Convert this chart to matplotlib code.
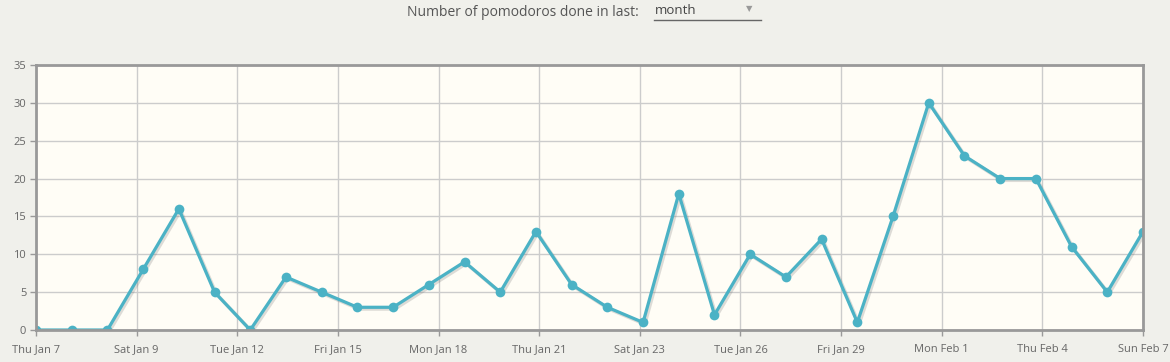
import matplotlib
matplotlib.use("Agg")
import matplotlib.pyplot as plt
import matplotlib.patheffects as pe
import numpy as np
import datetime as dt

start = dt.date(2016, 1, 7)
values = [0, 0, 0, 8, 16, 5, 0, 7, 5, 3, 3, 6, 9, 5, 13, 6, 3, 1, 18, 2,
          10, 7, 12, 1, 15, 30, 23, 20, 20, 11, 5, 13]
days = np.arange(len(values))
y_ticks = [0, 5, 10, 15, 20, 25, 30, 35]
title_text = "Number of pomodoros done in last:"
select_text = "month"

plt.rcParams['font.family'] = ['Open Sans', 'DejaVu Sans']

fig = plt.figure(figsize=11.7 * np.array([1, 362 / 1170]), dpi=100)
fig.patch.set_facecolor('#f0f0eb')
ax = fig.add_axes([36 / 1170, 32 / 362, (1143 - 36) / 1170, (330 - 65) / 362])
ax.set_facecolor('#fffdf6')

n_ticks = 12
xt = np.linspace(0, days[-1], n_ticks)
labels = []
for t in xt:
    d = start + dt.timedelta(days=int(np.floor(t + 1e-9)))
    labels.append(d.strftime('%a %b ') + str(d.day))
ax.set_xticks(xt)
ax.set_xticklabels(labels)
ax.set_yticks(y_ticks)
ax.set_xlim(0, days[-1])
ax.set_ylim(0, 35)

ax.grid(True, color='#cccccc', linewidth=1)
ax.set_axisbelow(True)

shadow = [pe.SimpleLineShadow(offset=(1.2, -1.2), shadow_color='#666666', alpha=0.22, linewidth=2.6),
          pe.Normal()]
ax.plot(days, values, color='#4bb2c5', linewidth=2.3, zorder=3, path_effects=shadow)
ax.plot(days, values, linestyle='none', color='#4bb2c5', marker='o', markersize=7,
        markeredgewidth=0, zorder=3.5)

for s in ax.spines.values():
    s.set_color('#999999')
    s.set_linewidth(2)
    s.set_zorder(4)

ax.tick_params(axis='both', colors='#999999', labelcolor='#666666', labelsize=8, length=4, width=1)
ax.tick_params(axis='x', pad=6)
ax.tick_params(axis='y', pad=3)

fig.text(523 / 1170, 1 - 12 / 362, title_text, ha='center', va='center', fontsize=10, color='#555555')
fig.text(655 / 1170, 1 - 11 / 362, select_text, ha='left', va='center', fontsize=9.5, color='#444444')
fig.text(749 / 1170, 1 - 9 / 362, '▼', ha='center', va='center', fontsize=6, color='#999999',
         family=['DejaVu Sans'])
fig.add_artist(plt.Line2D([654 / 1170, 761 / 1170], [1 - 20 / 362, 1 - 20 / 362], color='#666666', linewidth=1))

fig.savefig('out.png', dpi=100, facecolor=fig.get_facecolor())
